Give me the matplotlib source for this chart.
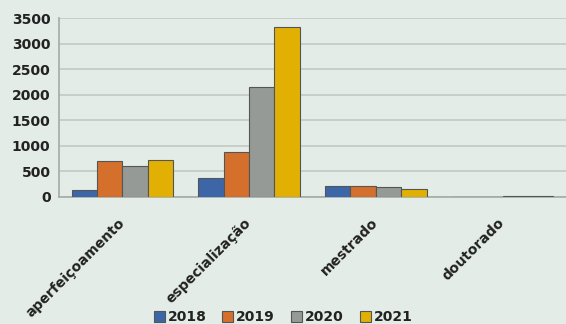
import matplotlib.pyplot as plt
import numpy as np

categories = ['aperfeiçoamento', 'especialização', 'mestrado', 'doutorado']
years = ['2018', '2019', '2020', '2021']
v2018 = [130, 372, 209, 5]
v2019 = [700, 887, 218, 8]
v2020 = [607, 2158, 196, 20]
v2021 = [730, 3320, 150, 25]
colors = ['#3d66a8', '#d5702c', '#959a97', '#e1b003']

bg = '#e3ece7'
fig = plt.figure(figsize=(5.66, 3.24), dpi=100, facecolor=bg)
ax = fig.add_axes([0.104, 0.392, 0.896, 0.552], facecolor=bg)

x = np.arange(len(categories))
w = 0.2
for i, (vals, c, yr) in enumerate(zip([v2018, v2019, v2020, v2021], colors, years)):
    ax.bar(x + (i - 1.5) * w, vals, w, color=c, edgecolor='#555555',
           linewidth=0.8, label=yr, zorder=3)

ax.set_xlim(-0.5, 3.5)
ax.set_ylim(0, 3500)
ax.set_yticks(range(0, 3501, 500))
ax.yaxis.grid(True, color='#c3c8c5', linewidth=1.2, zorder=0)
ax.tick_params(axis='both', length=0)
ax.tick_params(axis='y', pad=6)
for lab in ax.get_yticklabels():
    lab.set_fontweight('bold')
    lab.set_fontsize(10)
    lab.set_color('#222222')

ax.set_xticks(x)
ax.set_xticklabels(categories, rotation=45, ha='right', va='center',
                   rotation_mode='anchor', fontsize=10, fontweight='bold',
                   color='#222222')
ax.tick_params(axis='x', pad=17)

for s in ['top', 'right']:
    ax.spines[s].set_visible(False)
for s in ['left', 'bottom']:
    ax.spines[s].set_color('#a5aaa7')
    ax.spines[s].set_linewidth(1.2)

leg = fig.legend(loc='lower center', bbox_to_anchor=(0.5, -0.04), ncol=4,
                 frameon=False, handlelength=0.8, handleheight=0.8,
                 handletextpad=0.2, columnspacing=1.15,
                 prop={'weight': 'bold', 'size': 10})
for t in leg.get_texts():
    t.set_color('#222222')

plt.savefig('out.png', dpi=100, facecolor=bg)
